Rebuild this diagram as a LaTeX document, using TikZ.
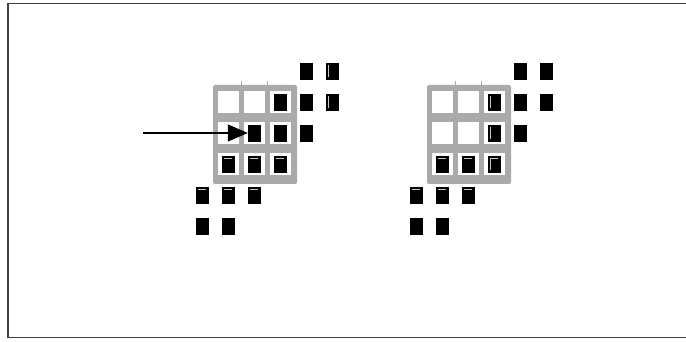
\documentclass[tikz,border=0pt]{standalone}
\usepackage{xcolor}
\usepackage{tikz}
\usetikzlibrary{arrows.meta}

\definecolor{gridgray}{RGB}{170,170,170}

\tikzset{
  blk/.style={draw=black, fill=black, rectangle, inner sep=0pt, minimum width=12pt, minimum height=16pt},
  blktop/.style={blk, path picture={\draw[gray!45, line width=1pt] ([xshift=1.8pt,yshift=-2.4pt]path picture bounding box.north west) -- ([xshift=-1.8pt,yshift=-2.4pt]path picture bounding box.north east);}},
  blkleft/.style={blk, path picture={\draw[gray!45, line width=1pt] ([xshift=2.4pt,yshift=-1.8pt]path picture bounding box.north west) -- ([xshift=2.4pt,yshift=1.8pt]path picture bounding box.south west);}},
  blkboth/.style={blk, path picture={\draw[gray!45, line width=1pt] ([xshift=2.4pt,yshift=1.8pt]path picture bounding box.south west) -- ([xshift=2.4pt,yshift=-2.4pt]path picture bounding box.north west) -- ([xshift=-1.8pt,yshift=-2.4pt]path picture bounding box.north east);}},
  cell/.style={fill=white, rectangle, inner sep=0pt, minimum width=21pt, minimum height=22pt},
}

\begin{document}
\begin{tikzpicture}[x=1pt, y=-1pt]
    \useasboundingbox (0,0) rectangle (686,342);

    % Outer frame
    \draw[black!75, line width=1.3pt] (692,3.5) -- (8,3.5) -- (8,337.5) -- (692,337.5);

    % Gray grids (left and right)
    \foreach \ox in {0,214} {
        \draw[gridgray, line width=1pt] (\ox+241,81) -- (\ox+241,86) (\ox+267,81) -- (\ox+267,86);
        \fill[gridgray, rounded corners=2pt] (\ox+213,85) rectangle (\ox+297,184);
        \foreach \i in {1,2,3}
            \foreach \j in {1,2,3}
                \node[cell] at (\ox+202+26*\i, 71+31*\j) {};
    }

    % Left pattern
    \node[blk] (L04) at (306,71) {};
    \node[blkleft] (L05) at (332,71) {};
    \node[blk] (L13) at (280,102) {};
    \node[blk] (L14) at (306,102) {};
    \node[blkleft] (L15) at (332,102) {};
    \node[blk] (L22) at (254,133) {};
    \node[blk] (L23) at (280,133) {};
    \node[blk] (L24) at (306,133) {};
    \node[blktop] (L31) at (228,164) {};
    \node[blktop] (L32) at (254,164) {};
    \node[blktop] (L33) at (280,164) {};
    \node[blktop] (L40) at (202,195) {};
    \node[blktop] (L41) at (228,195) {};
    \node[blktop] (L42) at (254,195) {};
    \node[blk] (L50) at (202,226) {};
    \node[blk] (L51) at (228,226) {};

    % Right pattern
    \node[blk] (R04) at (520,71) {};
    \node[blk] (R05) at (546,71) {};
    \node[blkleft] (R13) at (494,102) {};
    \node[blk] (R14) at (520,102) {};
    \node[blk] (R15) at (546,102) {};
    \node[blkleft] (R23) at (494,133) {};
    \node[blk] (R24) at (520,133) {};
    \node[blktop] (R31) at (442,164) {};
    \node[blktop] (R32) at (468,164) {};
    \node[blkboth] (R33) at (494,164) {};
    \node[blktop] (R40) at (416,195) {};
    \node[blktop] (R41) at (442,195) {};
    \node[blktop] (R42) at (468,195) {};
    \node[blk] (R50) at (416,226) {};
    \node[blk] (R51) at (442,226) {};

    % Arrow
    \coordinate (start) at (143,133);
    \draw[-{Triangle[length=20pt, width=17pt]}, line width=1.2pt] (start) -- (L22.west);
\end{tikzpicture}
\end{document}
